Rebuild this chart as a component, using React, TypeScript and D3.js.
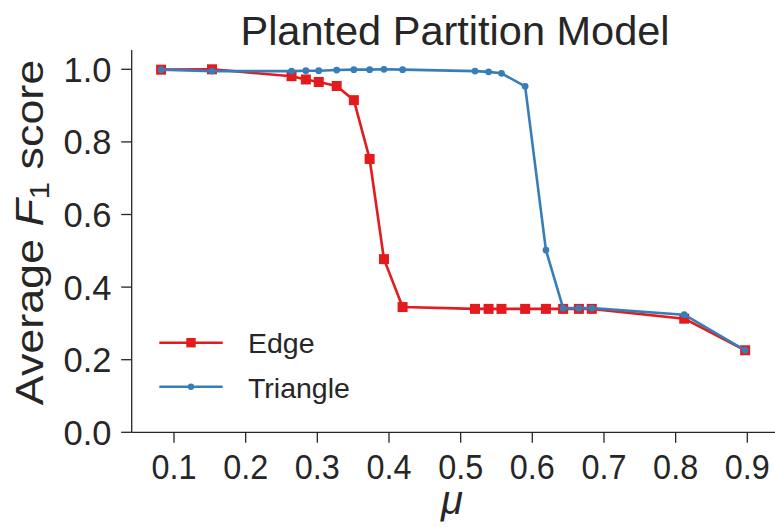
import React from "react";
import * as d3 from "d3";

const muValues = [0.082, 0.153, 0.264, 0.284, 0.302, 0.327, 0.351, 0.373, 0.393, 0.419, 0.52, 0.539, 0.557, 0.59, 0.619, 0.643, 0.665, 0.683, 0.812, 0.897];
const edgeF1 = [0.999, 1.0, 0.981, 0.972, 0.965, 0.954, 0.915, 0.753, 0.477, 0.345, 0.34, 0.34, 0.34, 0.34, 0.34, 0.34, 0.34, 0.34, 0.313, 0.226];
const triangleF1 = [0.999, 0.995, 0.995, 0.996, 0.996, 0.998, 0.999, 0.999, 1.0, 0.999, 0.995, 0.993, 0.989, 0.953, 0.502, 0.342, 0.342, 0.342, 0.324, 0.226];
const xTicks = [0.1, 0.2, 0.3, 0.4, 0.5, 0.6, 0.7, 0.8, 0.9];
const yTicks = [0.0, 0.2, 0.4, 0.6, 0.8, 1.0];
const seriesNames = ["Edge", "Triangle"];

const W = 775;
const H = 527;
const FONT = "'Liberation Sans', Arial, sans-serif";
const INK = "#262626";
const RED = "#e41a1c";
const BLUE = "#377eb8";

export default function App() {
  const left = 131.7;
  const right = 775;
  const top = 50;
  const bottom = 432.3;
  const x = d3.scaleLinear().domain([0.1, 0.9]).range([174, 747.3]);
  const y = d3.scaleLinear().domain([0, 1]).range([432.3, 69.3]);

  const edgeData = muValues.map((m, i) => [m, edgeF1[i]] as [number, number]);
  const triData = muValues.map((m, i) => [m, triangleF1[i]] as [number, number]);
  const line = d3
    .line<[number, number]>()
    .x((d) => x(d[0]))
    .y((d) => y(d[1]));

  const sq = 10;
  const r = 3.4;

  return (
    <svg
      width={W}
      height={H}
      style={{ position: "fixed", left: 0, top: 0, background: "#fff" }}
      fontFamily={FONT}
    >
      <rect x={0} y={0} width={W} height={H} fill="#fff" />
      {/* Title */}
      <text x={455} y={45} textAnchor="middle" fontSize={41.5} fill={INK}>
        Planted Partition Model
      </text>

      {/* Spines */}
      <line x1={left} x2={left} y1={top} y2={bottom} stroke={INK} strokeWidth={1.3} />
      <line x1={left} x2={right} y1={bottom} y2={bottom} stroke={INK} strokeWidth={1.3} />

      {/* Y ticks */}
      {yTicks.map((t) => (
        <g key={"y" + t}>
          <line x1={left - 10.5} x2={left} y1={y(t)} y2={y(t)} stroke={INK} strokeWidth={1.3} />
          <text x={111.5} y={y(t) + 12.4} textAnchor="end" fontSize={34.5} fill={INK}>
            {t.toFixed(1)}
          </text>
        </g>
      ))}

      {/* X ticks */}
      {xTicks.map((t) => (
        <g key={"x" + t}>
          <line x1={x(t)} x2={x(t)} y1={bottom} y2={bottom + 10.5} stroke={INK} strokeWidth={1.3} />
          <text
            transform={`translate(${x(t)},479) scale(0.9,1)`}
            textAnchor="middle"
            fontSize={36}
            fill={INK}
          >
            {t.toFixed(1)}
          </text>
        </g>
      ))}

      {/* Axis labels */}
      <text x={452} y={514} textAnchor="middle" fontSize={40} fontStyle="italic" fill={INK}>
        μ
      </text>
      <text
        transform="translate(43.3,232.5) rotate(-90) scale(1.15,1)"
        textAnchor="middle"
        fontSize={39}
        fill={INK}
      >
        Average <tspan fontStyle="italic">F</tspan>
        <tspan fontSize={27} dy={6}>1</tspan>
        <tspan dy={-6}> score</tspan>
      </text>

      {/* Edge series */}
      <path d={line(edgeData) || ""} fill="none" stroke={RED} strokeWidth={2.6} strokeLinejoin="round" />
      {edgeData.map((d, i) => (
        <rect key={"e" + i} x={x(d[0]) - sq / 2} y={y(d[1]) - sq / 2} width={sq} height={sq} fill={RED} />
      ))}

      {/* Triangle series */}
      <path d={line(triData) || ""} fill="none" stroke={BLUE} strokeWidth={2.6} strokeLinejoin="round" />
      {triData.map((d, i) => (
        <circle key={"t" + i} cx={x(d[0])} cy={y(d[1])} r={r} fill={BLUE} />
      ))}

      {/* Legend */}
      <g>
        <line x1={159.3} x2={222.7} y1={342.7} y2={342.7} stroke={RED} strokeWidth={2.6} />
        <rect x={191 - 4.7} y={342.7 - 4.7} width={9.4} height={9.4} fill={RED} />
        <text x={248} y={353.3} fontSize={28.5} fill={INK}>
          {seriesNames[0]}
        </text>
        <line x1={159.3} x2={222.7} y1={386.7} y2={386.7} stroke={BLUE} strokeWidth={2.6} />
        <circle cx={191} cy={386.7} r={3.2} fill={BLUE} />
        <text x={248} y={398} fontSize={28.5} fill={INK}>
          {seriesNames[1]}
        </text>
      </g>
    </svg>
  );
}
